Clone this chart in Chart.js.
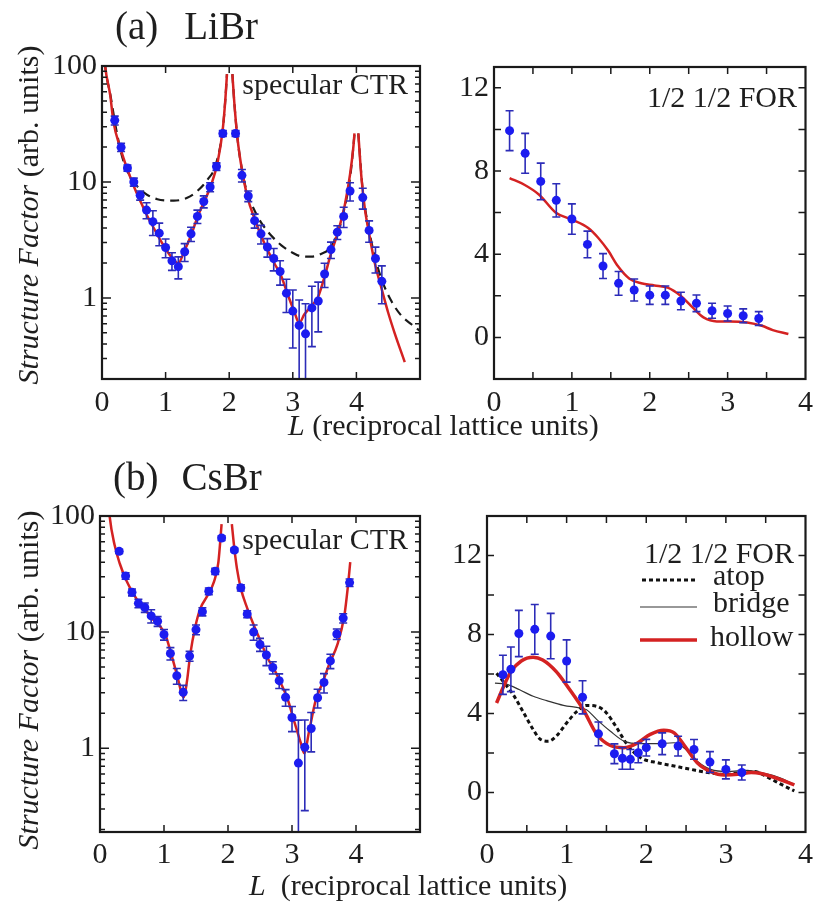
<!DOCTYPE html>
<html><head><meta charset="utf-8">
<script src="https://cdn.jsdelivr.net/npm/chart.js@4.4.1/dist/chart.umd.min.js"></script>
<style>
html,body{margin:0;padding:0;background:#fff;}
body{width:819px;height:905px;overflow:hidden;position:relative;font-family:"Liberation Serif","Times New Roman",serif;color:#1e1e1e;}
.box{position:absolute;}
.t{position:absolute;white-space:nowrap;line-height:1;font-size:30px;}
.ttl{font-size:39px;}
.yt{transform:translate(-50%,-50%) rotate(-90deg);}
</style></head><body>
<div class="box" style="left:27px;top:43px;width:413px;height:386px;"><canvas id="ca1"></canvas></div>
<div class="box" style="left:419px;top:44px;width:400px;height:385px;"><canvas id="ca2"></canvas></div>
<div class="box" style="left:25px;top:493px;width:415px;height:389px;"><canvas id="cb1"></canvas></div>
<div class="box" style="left:412px;top:493px;width:406px;height:389px;"><canvas id="cb2"></canvas></div>

<div class="t ttl" style="left:115px;top:6px;">(a)<span style="margin-left:26px">LiBr</span></div>
<div class="t ttl" style="left:113px;top:457px;">(b)<span style="margin-left:23px">CsBr</span></div>

<div class="t yt" style="left:28px;top:215px;"><i>Structure Factor</i> (arb. units)</div>
<div class="t yt" style="left:28px;top:680px;"><i>Structure Factor</i> (arb. units)</div>

<div class="t" style="left:288px;top:410px;"><i>L</i> (reciprocal lattice units)</div>
<div class="t" style="left:249px;top:870px;"><i>L</i>&nbsp; (reciprocal lattice units)</div>

<div class="t" style="right:411px;top:69px;">specular CTR</div>
<div class="t" style="right:411px;top:524px;">specular CTR</div>
<div class="t" style="right:22px;top:82px;">1/2 1/2 FOR</div>
<div class="t" style="right:25px;top:538px;">1/2 1/2 FOR</div>
<div class="t" style="left:713px;top:560px;">atop</div>
<div class="t" style="left:713px;top:587px;">bridge</div>
<div class="t" style="left:710px;top:621px;">hollow</div>
<svg style="position:absolute;left:630px;top:560px;" width="80" height="100">
  <line x1="12" y1="20" x2="68" y2="20" stroke="#111" stroke-width="3" stroke-dasharray="4 3"/>
  <line x1="10" y1="47" x2="67" y2="47" stroke="#333" stroke-width="1.2"/>
  <line x1="10" y1="80" x2="67" y2="80" stroke="#d42222" stroke-width="3.5"/>
</svg>

<script>
// ---------- (a) LiBr, specular CTR ----------
const aCtrL = [0.2,0.3,0.4,0.5,0.6,0.7,0.8,0.9,1.0,1.1,1.2,1.3,1.4,1.5,1.6,1.7,1.8,1.9,
               2.1,2.2,2.3,2.4,2.5,2.6,2.7,2.8,2.9,3.0,3.1,3.2,3.3,3.4,3.5,3.6,3.7,3.8,3.9,
               4.1,4.2,4.3,4.4];
const aCtrF = [34,19.9,13.2,10.0,7.67,5.72,4.55,3.62,2.72,2.09,1.86,2.5,3.57,5.05,6.78,9.04,13.6,26.2,
               26.2,11.4,7.57,4.64,3.57,2.75,2.19,1.69,1.1,0.77,0.58,0.49,0.82,0.94,1.61,2.61,3.69,5.05,8.36,
               7.33,3.82,2.19,1.39];
const aCtrErr = [3,1.6,0.8,0.8,0.7,0.9,1.1,0.8,0.5,0.36,0.4,0.44,0.5,0.67,0.8,0.8,1.0,1.5,
                 1.5,1.4,0.8,0.64,0.65,0.5,0.48,0.4,0.35,0.4,0.38,0.4,0.44,0.43,0.38,0.42,0.5,1.0,1.5,
                 1.5,0.8,0.55,0.5];
const aFitL = [0.03,0.05,0.13,0.18,0.29,0.4,0.5,0.6,0.71,0.82,0.92,1.03,1.13,1.2,1.29,1.4,1.5,1.6,1.71,1.82,1.9,1.94,1.965,
               2.0,
               2.05,2.08,2.13,2.2,2.29,2.4,2.5,2.6,2.71,2.82,2.92,3.03,3.1,3.18,3.29,3.4,3.5,3.6,3.71,3.82,3.9,3.95,3.97,
               4.0,
               4.03,4.08,4.13,4.21,4.29,4.4,4.5,4.6,4.76];
const aFitF = [140,100,55.6,33,19.5,12.8,9.2,6.9,5.1,3.95,3.13,2.5,2.12,1.99,2.5,3.46,4.95,6.65,9.2,15,28.9,52,85,
               null,
               85,48.7,23.8,12.8,7.3,4.79,3.46,2.61,1.99,1.53,1.07,0.745,0.605,0.72,0.85,1.03,1.53,2.41,3.69,6.43,11.6,19.5,26.2,
               null,
               26.2,10.8,6.03,3.35,1.99,1.18,0.745,0.50,0.28];
const aDashL = [0.03,0.05,0.13,0.24,0.34,0.5,0.66,0.87,1.13,1.34,1.5,1.66,1.79,1.9,1.94,1.965,
                2.0,
                2.05,2.08,2.13,2.2,2.29,2.4,2.5,2.66,2.82,2.97,3.13,3.29,3.45,3.58,3.68,3.79,3.9,3.95,3.97,
                4.0,
                4.03,4.1,4.18,4.29,4.4,4.55,4.71,4.87,5.0];
const aDashF = [140,100,57,25.4,15,10,8.1,7.1,6.9,7.3,8.36,10.5,14.1,28.9,52,85,
                null,
                85,48.7,23.8,12.8,7.8,5.65,4.49,3.46,2.84,2.5,2.29,2.27,2.41,2.67,3.35,5.28,10.8,19.5,26.2,
                null,
                26.2,8.36,4.35,2.27,1.43,0.94,0.70,0.59,0.52];

// ---------- (a) LiBr, 1/2 1/2 FOR ----------
const aForL = [0.2,0.4,0.6,0.8,1.0,1.2,1.4,1.6,1.8,2.0,2.2,2.4,2.6,2.8,3.0,3.2,3.4];
const aForF = [9.94,8.85,7.5,6.59,5.69,4.47,3.43,2.6,2.28,2.03,2.03,1.75,1.64,1.28,1.15,1.04,0.91];
const aForErr = [0.96,0.96,0.88,0.8,0.73,0.64,0.6,0.57,0.53,0.44,0.44,0.42,0.4,0.36,0.36,0.33,0.33];
const aForFitL = [0.2,0.39,0.58,0.79,1.0,1.21,1.34,1.47,1.59,1.74,1.89,2.06,2.23,2.4,2.55,2.69,2.86,3.03,3.25,3.44,3.58,3.78];
const aForFitF = [7.66,7.34,6.86,6.01,5.66,5.26,4.78,4.15,3.43,2.82,2.6,2.5,2.39,1.99,1.44,0.96,0.77,0.77,0.72,0.56,0.35,0.16];

// ---------- (b) CsBr, specular CTR ----------
const bCtrL = [0.3,0.4,0.5,0.6,0.7,0.8,0.9,1.0,1.1,1.2,1.3,1.4,1.5,1.6,1.7,1.8,1.9,
               2.1,2.2,2.3,2.4,2.5,2.6,2.7,2.8,2.9,3.0,3.1,3.2,3.3,3.4,3.5,3.6,3.7,3.8,3.9];
const bCtrF = [49.6,30.5,22,17.7,16.3,13.8,12.4,9.53,6.56,4.21,3.03,6.22,10.5,15,22.5,33.4,64.6,
               51,24.1,14.3,10,7.83,6.35,4.96,3.82,2.75,1.84,0.745,1.02,1.48,2.72,3.69,5.65,9.64,13.2,26.7];
const bCtrErr = [2,2,1.5,1.5,1.5,1.8,1.2,1,0.8,0.65,0.45,0.6,1,1.2,1.5,2,3,
                 2,1.5,1,1.5,1,1.2,0.6,0.55,0.45,0.45,1.0,0.73,0.55,0.5,0.7,0.8,1,1.2,2];
const bFitL = [0.12,0.15,0.23,0.31,0.41,0.52,0.62,0.73,0.83,0.94,1.02,1.1,1.2,1.31,1.36,1.41,1.49,1.57,1.67,1.78,1.85,1.9,
               1.98,
               2.06,2.1,2.14,2.2,2.3,2.4,2.51,2.61,2.72,2.82,2.93,3.03,3.14,3.19,3.27,3.37,3.48,3.58,3.71,3.82,3.87,3.91];
const bFitF = [160,100,55.6,38.8,28,21.5,17.7,15,12.8,11.2,9.53,6.87,4.35,2.75,3.82,6.43,11.2,16.1,20.2,27.1,40.1,85,
               null,
               85,52,35.2,23.8,16.1,11.6,8.36,6.1,4.8,3.69,2.67,1.74,1.1,0.906,1.43,2.58,3.69,5.28,7.83,14.1,23.8,40.1];

// ---------- (b) CsBr, 1/2 1/2 FOR ----------
const bForL = [0.2,0.3,0.4,0.6,0.8,1.0,1.2,1.4,1.6,1.7,1.8,1.9,2.0,2.2,2.4,2.6,2.8,3.0,3.2];
const bForF = [5.96,6.24,8.05,8.26,7.92,6.66,4.82,2.97,1.96,1.73,1.68,2.01,2.27,2.47,2.35,2.18,1.54,1.17,1.01];
const bForErr = [0.99,1.13,1.17,1.26,1.15,1.07,0.84,0.6,0.5,0.55,0.5,0.5,0.42,0.55,0.5,0.5,0.53,0.48,0.38];
const bHollowL = [0.12,0.2,0.3,0.43,0.58,0.7,0.87,1.04,1.21,1.38,1.55,1.72,1.88,2.05,2.22,2.35,2.47,2.64,2.81,2.98,3.15,3.32,3.44,3.61,3.86];
const bHollowF = [4.53,5.29,6.12,6.66,6.85,6.71,6.12,5.2,4.19,2.94,2.38,2.27,2.48,2.94,3.15,3.02,2.43,1.51,1.06,0.89,0.92,1.01,0.96,0.76,0.39];
const bBridgeL = [0.1,0.24,0.41,0.58,0.75,0.96,1.17,1.25,1.38,1.55,1.72,1.93,2.14,2.35,2.47,2.64,2.81,3.02,3.27,3.44,3.61,3.86];
const bBridgeF = [5.54,5.49,5.2,4.87,4.65,4.41,4.28,4.19,3.69,3.1,2.6,2.47,2.47,2.52,2.27,1.59,1.17,1.06,1.12,1.01,0.84,0.42];
const bAtopL = [0.12,0.22,0.33,0.45,0.58,0.66,0.77,0.87,1.0,1.13,1.25,1.38,1.5,1.63,1.76,1.93,2.14,2.35,2.56,2.77,2.98,3.19,3.36,3.53,3.69,3.86];
const bAtopF = [6.04,5.54,4.95,4.11,3.19,2.73,2.6,2.85,3.52,4.11,4.41,4.36,4.03,3.27,2.43,1.76,1.51,1.34,1.17,1.01,0.92,1.01,1.06,0.76,0.42,0.08];

// ---------- styling ----------
const FONT = {family: "'Liberation Serif', 'Times New Roman', serif", size: 30};
const TXT = '#1e1e1e';
const RED = '#d42222';
const BLUE = '#1c1cf0';
const EBLUE = '#2c2cb8';

function pts(xs, ys) { return xs.map((x, i) => ({x: x, y: ys[i]})); }
function isPow10(v) { const l = Math.log10(v); return Math.abs(l - Math.round(l)) < 1e-6; }
function logTicks(min, max) {
  const t = [];
  for (let e = -2; e <= 3; e++) for (let m = 1; m < 10; m++) {
    const v = m * Math.pow(10, e);
    if (v >= min * 0.9999 && v <= max * 1.0001) t.push({value: v});
  }
  return t;
}

const errorBarPlugin = {
  id: 'errbars',
  beforeDatasetDraw(chart, args) {
    const ds = chart.data.datasets[args.index];
    if (!ds.errorBars) return;
    const {ctx, chartArea: a} = chart;
    const xs = chart.scales.x, ys = chart.scales.y;
    const isLog = ys.type === 'logarithmic';
    ctx.save();
    ctx.beginPath(); ctx.rect(a.left, a.top, a.right - a.left, a.bottom - a.top); ctx.clip();
    ctx.strokeStyle = ds.errorColor; ctx.lineWidth = 1.6;
    ctx.beginPath();
    ds.data.forEach((p, i) => {
      const e = ds.errorBars[i];
      const lo = p.y - e, hi = p.y + e;
      const px = xs.getPixelForValue(p.x);
      const pHi = ys.getPixelForValue(hi);
      const pLo = (isLog && lo <= 0) ? a.bottom + 10 : ys.getPixelForValue(lo);
      ctx.moveTo(px, pLo); ctx.lineTo(px, pHi);
      ctx.moveTo(px - 4, pHi); ctx.lineTo(px + 4, pHi);
      if (pLo < a.bottom) { ctx.moveTo(px - 4, pLo); ctx.lineTo(px + 4, pLo); }
    });
    ctx.stroke();
    ctx.restore();
  }
};

const framePlugin = {
  id: 'frame',
  afterDraw(chart) {
    const {ctx, chartArea: a} = chart;
    const xs = chart.scales.x, ys = chart.scales.y;
    ctx.save();
    ctx.strokeStyle = '#1a1a1a';
    ctx.lineWidth = 1.5;
    ctx.beginPath();
    xs.ticks.forEach(t => {
      const p = xs.getPixelForValue(t.value);
      if (p <= a.left + 1 || p >= a.right - 1) return;
      ctx.moveTo(p, a.bottom); ctx.lineTo(p, a.bottom - 7);
      ctx.moveTo(p, a.top); ctx.lineTo(p, a.top + 7);
    });
    ys.ticks.forEach(t => {
      const p = ys.getPixelForValue(t.value);
      if (p <= a.top + 1 || p >= a.bottom - 1) return;
      let len = 7;
      if (ys.type === 'logarithmic') len = isPow10(t.value) ? 9 : 5;
      ctx.moveTo(a.left, p); ctx.lineTo(a.left + len, p);
      ctx.moveTo(a.right, p); ctx.lineTo(a.right - len, p);
    });
    ctx.stroke();
    ctx.lineWidth = 2.2;
    ctx.strokeRect(a.left, a.top, a.right - a.left, a.bottom - a.top);
    ctx.restore();
  }
};

function pointSet(xs, ys, errs) {
  return {data: pts(xs, ys), errorBars: errs, errorColor: EBLUE, showLine: false,
          pointRadius: 4.5, pointBackgroundColor: BLUE, pointBorderWidth: 0, pointHoverRadius: 4.5};
}
function curveSet(xs, ys, color, width, dash) {
  return {data: pts(xs, ys), showLine: true, pointRadius: 0, pointHoverRadius: 0, borderColor: color,
          borderWidth: width, borderDash: dash || [], cubicInterpolationMode: 'monotone', spanGaps: false, fill: false};
}

function makeChart(id, o) {
  const yScale = o.log ? {
    type: 'logarithmic', min: o.yMin, max: o.yMax,
    grid: {display: false, drawTicks: false}, border: {display: false},
    ticks: {autoSkip: false, padding: 5, font: FONT, color: TXT,
            callback: v => isPow10(v) ? String(Math.round(v)) : ''},
    afterBuildTicks: s => { s.ticks = logTicks(s.min, s.max); },
    afterFit: s => { s.width = 75; }
  } : {
    type: 'linear', min: o.yMin, max: o.yMax,
    grid: {display: false, drawTicks: false}, border: {display: false},
    ticks: {stepSize: 2, includeBounds: false, autoSkip: false, padding: 5, font: FONT, color: TXT,
            callback: v => (v >= 0 && Math.abs(v % 4) < 1e-6) ? String(v) : ''},
    afterFit: s => { s.width = 75; }
  };
  return new Chart(document.getElementById(id), {
    type: 'scatter',
    data: {datasets: o.datasets},
    options: {
      responsive: true, maintainAspectRatio: false, animation: false, events: [],
      layout: {padding: {top: 20, right: o.padRight, left: 0, bottom: 0}},
      plugins: {legend: {display: false}, tooltip: {enabled: false}},
      scales: {
        x: {type: 'linear', min: 0, max: o.xMax,
            grid: {display: false, drawTicks: false}, border: {display: false},
            ticks: {stepSize: o.xStep, includeBounds: false, autoSkip: false, maxRotation: 0, minRotation: 0,
                    padding: o.xPad, font: FONT, color: TXT,
                    callback: v => (Math.abs(v - Math.round(v)) < 1e-6 && v <= 4) ? String(Math.round(v)) : ''},
            afterFit: s => { s.height = 50; }},
        y: yScale
      }
    },
    plugins: [errorBarPlugin, framePlugin]
  });
}

makeChart('ca1', {log: true, yMin: 0.2, yMax: 100, xMax: 5, xStep: 1, xPad: 6, padRight: 20, datasets: [
  pointSet(aCtrL, aCtrF, aCtrErr),
  curveSet(aFitL, aFitF, RED, 2.5),
  curveSet(aDashL, aDashF, '#1a1a1a', 2.2, [9, 6])
]});
makeChart('ca2', {log: false, yMin: -2, yMax: 13, xMax: 4, xStep: 0.5, xPad: 6, padRight: 9, datasets: [
  pointSet(aForL, aForF, aForErr),
  curveSet(aForFitL, aForFitF, RED, 2.5)
]});
makeChart('cb1', {log: true, yMin: 0.19, yMax: 100, xMax: 5, xStep: 1, xPad: 5, padRight: 20, datasets: [
  pointSet(bCtrL, bCtrF, bCtrErr),
  curveSet(bFitL, bFitF, RED, 2.5)
]});
makeChart('cb2', {log: false, yMin: -2, yMax: 14, xMax: 4, xStep: 0.5, xPad: 5, padRight: 11, datasets: [
  pointSet(bForL, bForF, bForErr),
  curveSet(bHollowL, bHollowF, RED, 3.5),
  curveSet(bBridgeL, bBridgeF, '#333', 1.2),
  curveSet(bAtopL, bAtopF, '#111', 3, [4, 3])
]});
</script>
</body></html>
